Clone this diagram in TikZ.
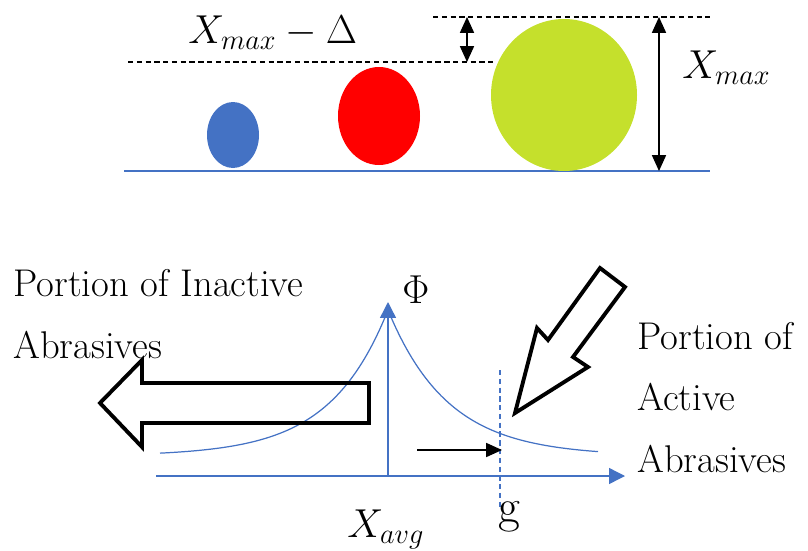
\RequirePackage{fix-cm}
\documentclass[tikz,border=0pt]{standalone}
\usepackage{amsmath}
\usetikzlibrary{arrows.meta, positioning}
\definecolor{axisblue}{RGB}{68,114,196}
\definecolor{grainred}{RGB}{255,0,0}
\definecolor{grainlime}{RGB}{197,224,44}

\begin{document}
\begin{tikzpicture}[
	x=0.02cm, y=0.02cm,
	every node/.style={inner sep=0pt},
	%% Label styles
	mathlbl/.style={font=\fontsize{23}{28}\selectfont, anchor=base west},
	txtlbl/.style={font=\fontsize{22}{35}\selectfont, align=left, anchor=base west},
	%% Line styles
	guide/.style={dash pattern=on 3pt off 2pt, line width=0.6pt},
	dimarr/.style={{Triangle[length=9pt,width=8pt]}-{Triangle[length=9pt,width=8pt]}, line width=0.7pt},
	shiftarr/.style={-{Triangle[length=9pt,width=8pt]}, line width=0.7pt},
	axis/.style={-{Triangle[length=9pt,width=9pt]}, draw=axisblue, fill=axisblue, line width=0.8pt},
	curve/.style={draw=axisblue, line width=0.7pt},
	cutline/.style={draw=axisblue, dash pattern=on 3pt off 2pt, line width=0.7pt},
	block/.style={draw=black, line width=2.2pt, line join=miter},
	]
	
	\useasboundingbox (0,0) rectangle (808,-551);
	
	%% ── Grains on the wheel surface ─────────────────────────────────
	\coordinate (surfL) at (124,-171);
	\coordinate (surfR) at (710,-171);
	\draw[axisblue, line width=0.8pt] (surfL) -- (surfR);
	
	\fill[axisblue]  (233,-135) ellipse [x radius=26, y radius=33];
	\fill[grainred]  (379,-116) ellipse [x radius=41, y radius=49];
	\fill[grainlime] (564,-95)  ellipse [x radius=73, y radius=76];
	
	%% guide lines for the heights
	\coordinate (topL) at (433,-17);
	\coordinate (topR) at (710,-17);
	\coordinate (cutL) at (128,-62);
	\coordinate (cutR) at (493,-62);
	\draw[guide] (topL) -- (topR);
	\draw[guide] (cutL) -- (cutR);
	
	\coordinate (dTop) at (467,-17);
	\coordinate (dBot) at (467,-62);
	\coordinate (mTop) at (659,-17);
	\coordinate (mBot) at (659,-171);
	\draw[dimarr] (dTop) -- (dBot);
	\draw[dimarr] (mTop) -- (mBot);
	
	\node[mathlbl] (cutlbl) at (188,-43) {$X_{max}-\Delta$};
	\node[mathlbl] (maxlbl) at (682,-78) {$X_{max}$};
	
	%% ── Distribution ────────────────────────────────────────────────
	\coordinate (xstart) at (156,-476);
	\coordinate (xend)   at (625,-476);
	\coordinate (origin) at (388,-476);
	\coordinate (ytip)   at (388,-302);
	\draw[axis] (xstart) -- (xend);
	\draw[axis] (origin) -- (ytip);
	
	%% two exponential tails meeting at X_avg
	\draw[curve] plot[domain=160:388, samples=80] (\x, {-456+146*exp(-(388-\x)/58)});
	\draw[curve] plot[domain=388:598, samples=80] (\x, {-456+146*exp(-(\x-388)/60)});
	
	\coordinate (gTop) at (500,-370);
	\coordinate (gBot) at (500,-507);
	\draw[cutline] (gTop) -- (gBot);
	
	\coordinate (shiftA) at (417,-450);
	\coordinate (shiftB) at (502,-450);
	\draw[shiftarr] (shiftA) -- (shiftB);
	
	%% block arrows
	\draw[block] (100,-403) -- (142,-360) -- (142,-383) -- (369,-383)
	-- (369,-423) -- (142,-423) -- (142,-447) -- cycle;
	\draw[block] (515,-413) -- (537,-328) -- (548,-340) -- (600,-268)
	-- (625,-287) -- (573,-357) -- (588,-367) -- cycle;
	
	\node[mathlbl] (philbl) at (402,-303) {$\Phi$};
	\node[mathlbl] (avglbl) at (347,-537) {$X_{avg}$};
	\node[mathlbl, font=\fontsize{27}{30}\selectfont, anchor=base] (glbl) at (509,-522) {g};
	
	\node[txtlbl] (inact) at (13,-358) {Portion of Inactive\\Abrasives};
	\node[txtlbl] (act)   at (637,-472) {Portion of\\Active\\Abrasives};
	
\end{tikzpicture}
\end{document}
